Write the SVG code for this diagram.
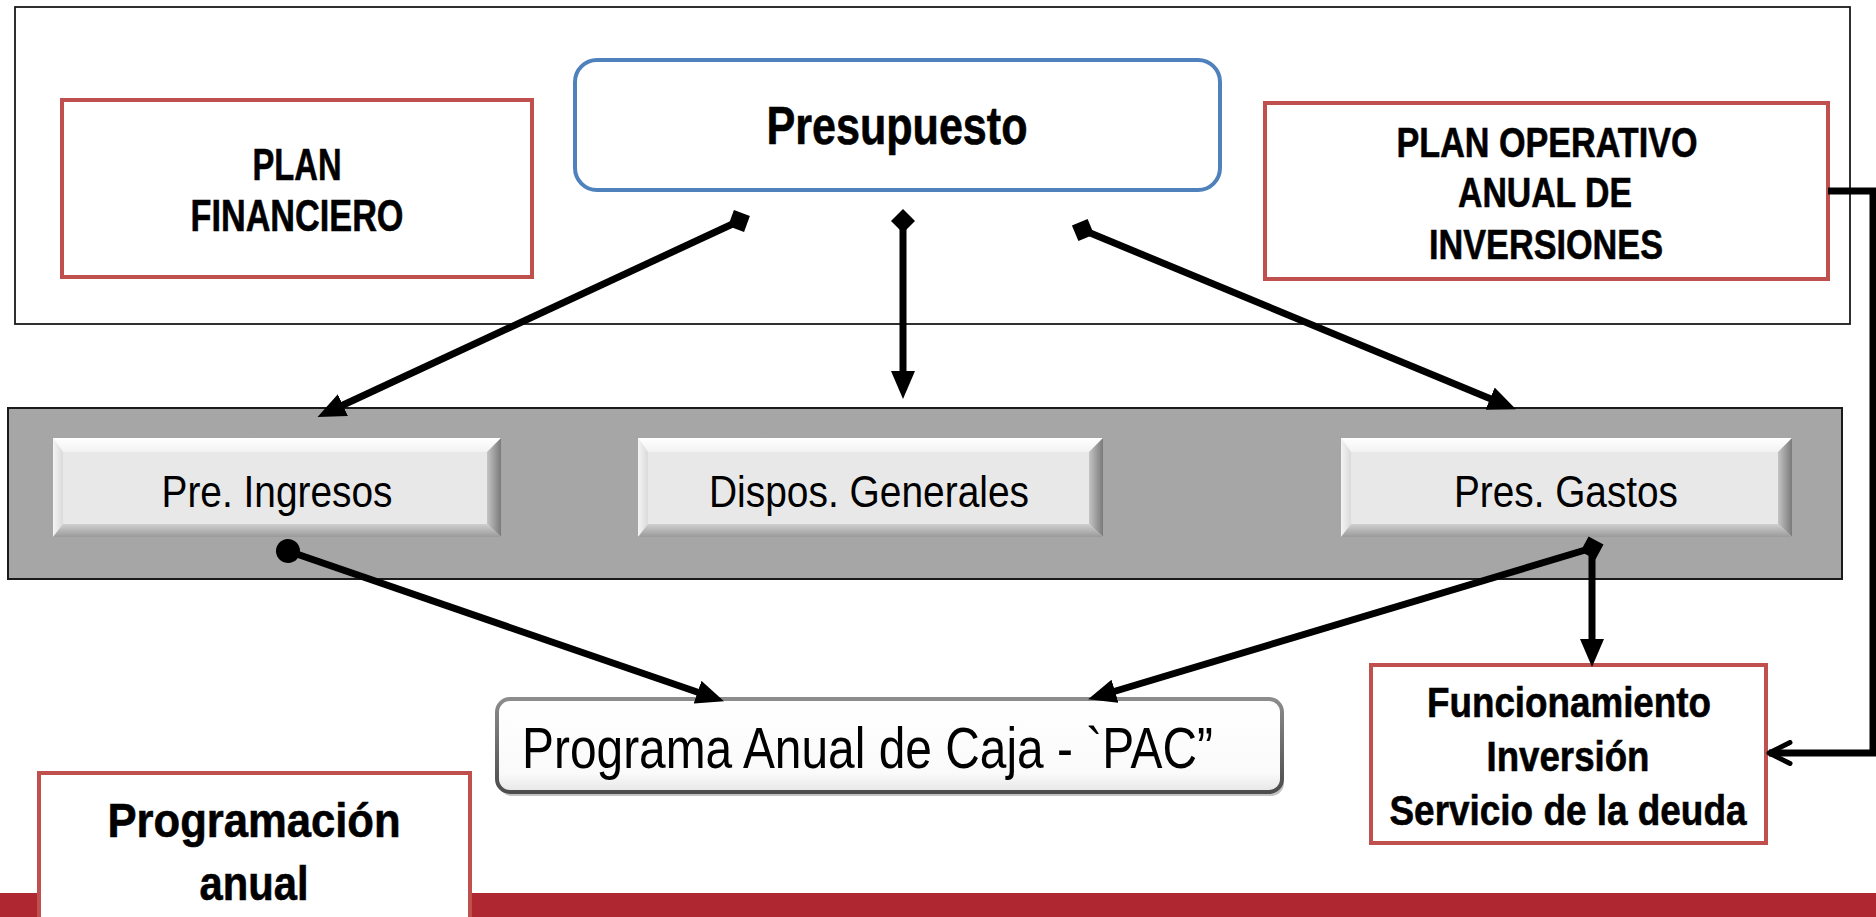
<svg xmlns="http://www.w3.org/2000/svg" width="1876" height="917" viewBox="0 0 1876 917">
<style>
.redbox{fill:#fff;stroke:#C0504D;stroke-width:4}
.bt{font-family:"Liberation Sans",Arial,sans-serif;font-weight:bold;fill:#000;stroke:#000;stroke-width:0.6;text-anchor:middle}
.rt{font-family:"Liberation Sans",Arial,sans-serif;fill:#000;text-anchor:middle}
.conn{fill:none;stroke:#000;stroke-width:7}
.face{fill:#E8E8E8}
.bvt{fill:url(#gTop)}
.bvl{fill:url(#gLeft)}
.bvr{fill:url(#gRight)}
.bvb{fill:url(#gBot)}
</style>
<defs>
<linearGradient id="gTop" x1="0" y1="0" x2="0" y2="1"><stop offset="0" stop-color="#FFFFFF"/><stop offset="1" stop-color="#F2F2F2"/></linearGradient>
<linearGradient id="gLeft" x1="0" y1="0" x2="1" y2="0"><stop offset="0" stop-color="#F4F4F4"/><stop offset="1" stop-color="#DADADA"/></linearGradient>
<linearGradient id="gRight" x1="0" y1="0" x2="1" y2="0"><stop offset="0" stop-color="#C4C4C4"/><stop offset="1" stop-color="#7A7A7A"/></linearGradient>
<linearGradient id="gBot" x1="0" y1="0" x2="0" y2="1"><stop offset="0" stop-color="#CFCFCF"/><stop offset="1" stop-color="#9A9A9A"/></linearGradient>
<linearGradient id="gPac" x1="0" y1="0" x2="0" y2="1"><stop offset="0" stop-color="#FFFFFF"/><stop offset="0.8" stop-color="#FAFAFA"/><stop offset="1" stop-color="#E6E6E6"/></linearGradient>
<linearGradient id="gPacS" x1="0" y1="0" x2="0" y2="1"><stop offset="0" stop-color="#8C8C8C"/><stop offset="1" stop-color="#4D4D4D"/></linearGradient>
<marker id="tri" viewBox="0 -12 28 24" refX="1" refY="0" markerWidth="28" markerHeight="24" markerUnits="userSpaceOnUse" orient="auto"><path d="M0,-12 L28,0 L0,12 z" fill="#000"/></marker>
<marker id="dia" viewBox="-13 -13 26 26" refX="0" refY="0" markerWidth="26" markerHeight="26" markerUnits="userSpaceOnUse" orient="auto"><path d="M-12,0 L0,-12 L12,0 L0,12 z" fill="#000"/></marker>
<marker id="dot" viewBox="-13 -13 26 26" refX="0" refY="0" markerWidth="26" markerHeight="26" markerUnits="userSpaceOnUse" orient="auto"><circle cx="0" cy="0" r="12" fill="#000"/></marker>
<marker id="chev" viewBox="-24 -13 28 26" refX="0" refY="0" markerWidth="28" markerHeight="26" markerUnits="userSpaceOnUse" orient="auto"><path d="M-21,-10.5 L0,0 L-21,10.5" fill="none" stroke="#000" stroke-width="5" stroke-linecap="round" stroke-linejoin="round"/></marker>
</defs>
<rect width="1876" height="917" fill="#fff"/>

<g id="marco-superior"><rect x="15" y="7" width="1835" height="317" fill="#fff" stroke="#1a1a1a" stroke-width="1.8"/></g>

<g id="banda-gris"><rect x="8" y="408" width="1834" height="171" fill="#A6A6A6" stroke="#1a1a1a" stroke-width="2"/></g>

<g id="barra-roja"><rect x="0" y="893" width="1876" height="24" fill="#AF2731"/></g>

<g id="plan-financiero">
<rect class="redbox" x="62" y="100" width="470" height="177"/>
<text class="bt" x="297" y="180" font-size="45" textLength="89" lengthAdjust="spacingAndGlyphs">PLAN</text>
<text class="bt" x="297" y="231" font-size="45" textLength="213" lengthAdjust="spacingAndGlyphs">FINANCIERO</text>
</g>

<g id="presupuesto">
<rect x="575" y="60" width="645" height="130" rx="22" fill="#fff" stroke="#4F81BD" stroke-width="4"/>
<text class="bt" x="897" y="144" font-size="53" textLength="261" lengthAdjust="spacingAndGlyphs">Presupuesto</text>
</g>

<g id="plan-operativo">
<rect class="redbox" x="1265" y="103" width="563" height="176"/>
<text class="bt" x="1547" y="157" font-size="43" textLength="301" lengthAdjust="spacingAndGlyphs">PLAN OPERATIVO</text>
<text class="bt" x="1545" y="207" font-size="43" textLength="174" lengthAdjust="spacingAndGlyphs">ANUAL DE</text>
<text class="bt" x="1546" y="259" font-size="43" textLength="234" lengthAdjust="spacingAndGlyphs">INVERSIONES</text>
</g>

<g id="pre-ingresos">
<rect class="face" x="53" y="438" width="448" height="99"/>
<polygon class="bvt" points="53,438 501,438 487,452 63,452"/>
<polygon class="bvl" points="53,438 63,452 63,524 53,537"/>
<polygon class="bvr" points="501,438 501,537 487,524 487,452"/>
<polygon class="bvb" points="53,537 63,524 487,524 501,537"/>
<text class="rt" x="277" y="507" font-size="45" textLength="231" lengthAdjust="spacingAndGlyphs">Pre. Ingresos</text>
</g>

<g id="dispos-generales">
<rect class="face" x="638" y="438" width="465" height="99"/>
<polygon class="bvt" points="638,438 1103,438 1089,452 648,452"/>
<polygon class="bvl" points="638,438 648,452 648,524 638,537"/>
<polygon class="bvr" points="1103,438 1103,537 1089,524 1089,452"/>
<polygon class="bvb" points="638,537 648,524 1089,524 1103,537"/>
<text class="rt" x="869" y="507" font-size="45" textLength="320" lengthAdjust="spacingAndGlyphs">Dispos. Generales</text>
</g>

<g id="pres-gastos">
<rect class="face" x="1341" y="438" width="451" height="99"/>
<polygon class="bvt" points="1341,438 1792,438 1778,452 1351,452"/>
<polygon class="bvl" points="1341,438 1351,452 1351,524 1341,537"/>
<polygon class="bvr" points="1792,438 1792,537 1778,524 1778,452"/>
<polygon class="bvb" points="1341,537 1351,524 1778,524 1792,537"/>
<text class="rt" x="1566" y="507" font-size="45" textLength="224" lengthAdjust="spacingAndGlyphs">Pres. Gastos</text>
</g>

<g id="pac">
<rect x="499" y="703" width="785" height="93" rx="13" fill="#9A9A9A" opacity="0.6"/>
<rect x="497" y="699" width="785" height="93" rx="13" fill="url(#gPac)" stroke="url(#gPacS)" stroke-width="4"/>
<text x="522" y="768" font-family="'Liberation Sans',Arial,sans-serif" font-size="58" fill="#000" textLength="691" lengthAdjust="spacingAndGlyphs">Programa Anual de Caja - `PAC”</text>
</g>

<g id="funcionamiento">
<rect class="redbox" x="1371" y="665" width="395" height="178"/>
<text class="bt" x="1569" y="717" font-size="43" textLength="284" lengthAdjust="spacingAndGlyphs">Funcionamiento</text>
<text class="bt" x="1568" y="771" font-size="43" textLength="163" lengthAdjust="spacingAndGlyphs">Inversión</text>
<text class="bt" x="1568" y="825" font-size="43" textLength="357" lengthAdjust="spacingAndGlyphs">Servicio de la deuda</text>
</g>

<g id="programacion-anual">
<rect x="39" y="773" width="431" height="160" fill="#fff" stroke="#C0504D" stroke-width="4"/>
<text class="bt" x="254" y="837" font-size="48" textLength="293" lengthAdjust="spacingAndGlyphs">Programación</text>
<text class="bt" x="254" y="900" font-size="48" textLength="109" lengthAdjust="spacingAndGlyphs">anual</text>
</g>

<g id="conectores">
<path class="conn" d="M739,221 L342,405.5" marker-start="url(#dia)" marker-end="url(#tri)"/>
<path class="conn" d="M903,221 L903,372" marker-start="url(#dia)" marker-end="url(#tri)"/>
<path class="conn" d="M1083,230 L1491,399" marker-start="url(#dia)" marker-end="url(#tri)"/>
<path class="conn" d="M288,551 L698.5,692.5" marker-start="url(#dot)" marker-end="url(#tri)"/>
<path class="conn" d="M1592,548 L1114,691.5" marker-start="url(#dia)" marker-end="url(#tri)"/>
<path class="conn" d="M1592,548 L1592,640" marker-end="url(#tri)"/>
<path class="conn" d="M1828,191 H1873 V753 H1769" stroke-width="5" marker-end="url(#chev)"/>
</g>
</svg>
